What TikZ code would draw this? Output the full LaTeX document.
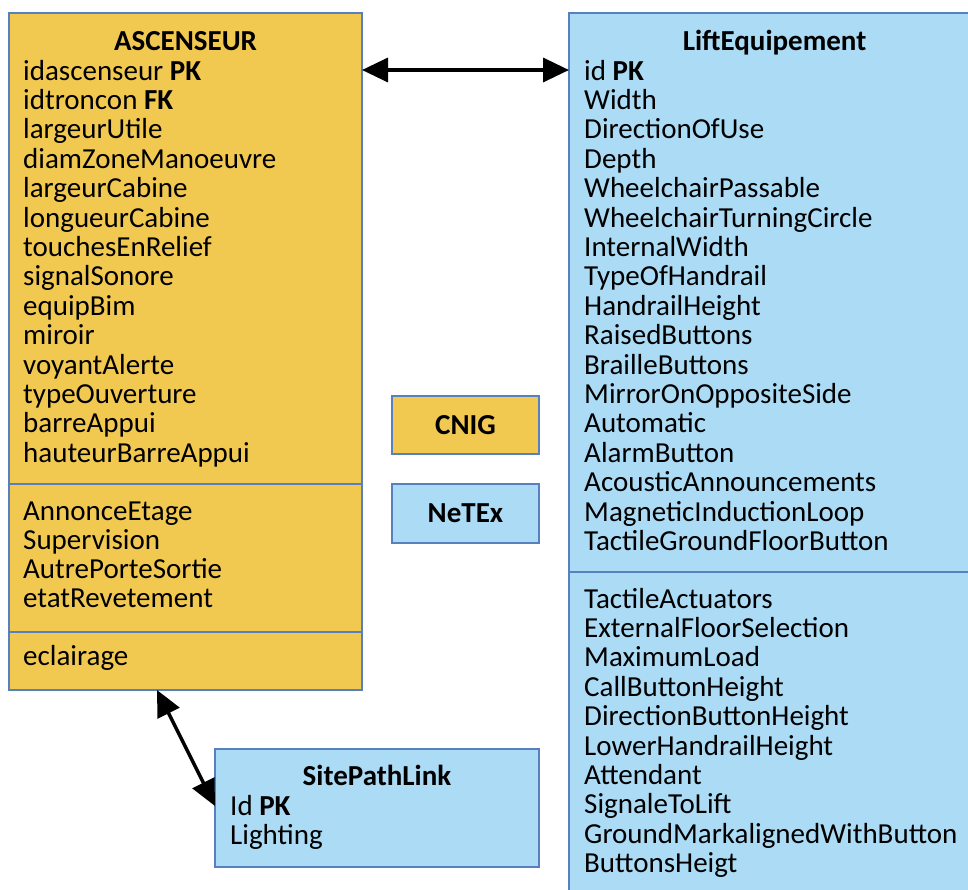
\documentclass[tikz,border=0pt]{standalone}
\usepackage{fontspec}
\setmainfont{Carlito}
\usetikzlibrary{arrows.meta}
\definecolor{cnig}{RGB}{242,201,80}
\definecolor{netex}{RGB}{171,219,245}
\definecolor{edge}{RGB}{88,128,190}
\tikzset{
  box/.style={draw=edge, line width=1.2pt, inner sep=0pt, outer sep=0pt, anchor=north west},
  attr/.style={anchor=base west, inner sep=0pt, font=\fontsize{29}{29}\selectfont},
  ttl/.style={anchor=base, inner sep=0pt, font=\fontsize{29}{29}\selectfont\bfseries},
  divider/.style={draw=edge, line width=1.2pt},
  link/.style={line width=3.5pt, {Triangle[length=26pt,width=24pt]}-{Triangle[length=26pt,width=24pt]}}
}
\begin{document}
\begin{tikzpicture}[x=1pt,y=-1pt]
\clip (0,0) rectangle (968,889);
\fill[white] (0,0) rectangle (968,889);
% boxes
\node[box, fill=cnig, minimum width=353pt, minimum height=677pt] (asc) at (9,13) {};
\node[box, fill=netex, minimum width=411pt, minimum height=890pt] (lift) at (569,13) {};
\node[box, fill=cnig, minimum width=147pt, minimum height=58pt] (cnigbox) at (392,396) {};
\node[box, fill=netex, minimum width=147pt, minimum height=59pt] (netexbox) at (392,484) {};
\node[box, fill=netex, minimum width=324pt, minimum height=118pt] (spl) at (215,749) {};
% dividers
\draw[divider] (9,484) -- (362,484);
\draw[divider] (9,632) -- (362,632);
\draw[divider] (569,572) -- (980,572);
% ASCENSEUR
\node[ttl] (ascT) at (185.5,50) {ASCENSEUR};
\foreach \t [count=\i from 0] in {idascenseur \textbf{PK}, idtroncon \textbf{FK}, largeurUtile, diamZoneManoeuvre, largeurCabine, longueurCabine, touchesEnRelief, signalSonore, equipBim, miroir, voyantAlerte, typeOuverture, barreAppui, hauteurBarreAppui}
  \node[attr] (asca\i) at (23,{80+29.4*\i}) {\t};
\foreach \t [count=\i from 0] in {AnnonceEtage, Supervision, AutrePorteSortie, etatRevetement}
  \node[attr] (ascb\i) at (23,{520+29.2*\i}) {\t};
\node[attr] (ascc0) at (23,665) {eclairage};
% LiftEquipement
\node[ttl] (liftT) at (774.5,50) {LiftEquipement};
\foreach \t [count=\i from 0] in {id \textbf{PK}, Width, DirectionOfUse, Depth, WheelchairPassable, WheelchairTurningCircle, InternalWidth, TypeOfHandrail, HandrailHeight, RaisedButtons, BrailleButtons, MirrorOnOppositeSide, Automatic, AlarmButton, AcousticAnnouncements, MagneticInductionLoop, TactileGroundFloorButton}
  \node[attr] (lifta\i) at (584,{80+29.4*\i}) {\t};
\foreach \t [count=\i from 0] in {TactileActuators, ExternalFloorSelection, MaximumLoad, CallButtonHeight, DirectionButtonHeight, LowerHandrailHeight, Attendant, SignaleToLift, GroundMarkalignedWithButton, ButtonsHeigt}
  \node[attr] (liftb\i) at (584,{608+29.4*\i}) {\t};
% legend
\node[ttl, anchor=center] (cnigT) at (cnigbox.center) {CNIG};
\node[ttl, anchor=center] (netexT) at (netexbox.center) {NeTEx};
% SitePathLink
\node[ttl] (splT) at (377,785) {SitePathLink};
\node[attr] (spl0) at (230,815) {Id \textbf{PK}};
\node[attr] (spl1) at (230,844) {Lighting};
% connectors
\coordinate (p1) at ([yshift=-57pt]asc.north east);
\coordinate (p2) at ([yshift=-57pt]lift.north west);
\draw[link] (p1) -- (p2);
\coordinate (p3) at ([xshift=-205pt]asc.south east);
\coordinate (p4) at ([yshift=-57pt]spl.north west);
\draw[link] (p3) -- (p4);
\end{tikzpicture}
\end{document}
